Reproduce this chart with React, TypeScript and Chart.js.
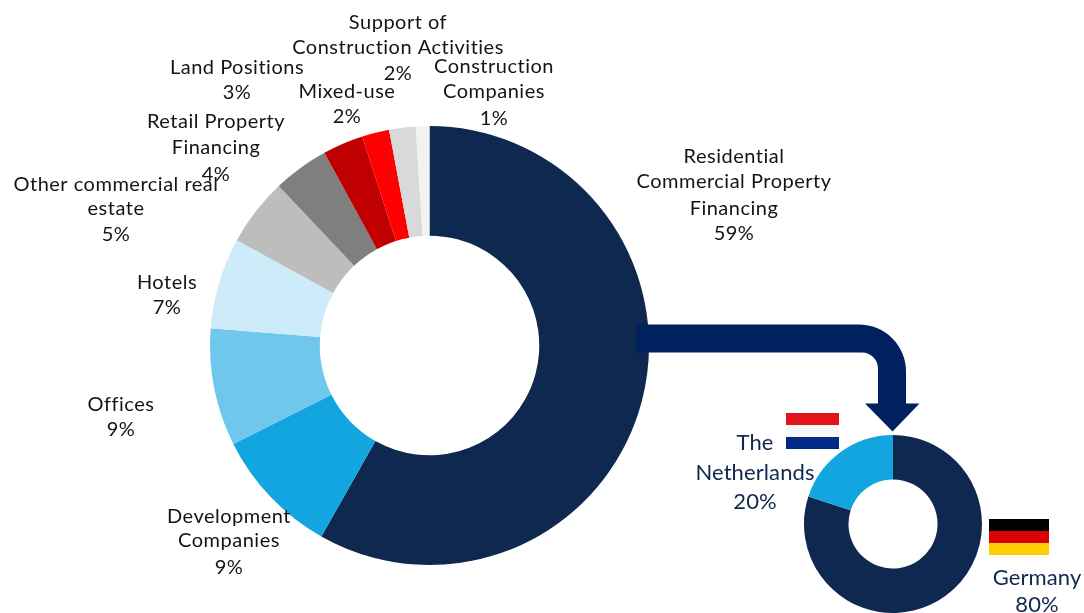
import React, { useEffect, useRef } from "react";
import { Chart, registerables } from "chart.js";

Chart.register(...registerables);

const sectorCategories = [
  "Residential Commercial Property Financing",
  "Development Companies",
  "Offices",
  "Hotels",
  "Other commercial real estate",
  "Retail Property Financing",
  "Land Positions",
  "Mixed-use",
  "Support of Construction Activities",
  "Construction Companies",
];
const sectorValues = [58.2, 9.4, 8.65, 6.7, 5.0, 4.1, 3.0, 2.0, 1.95, 1.0];
const sectorColors = [
  "#0F2850", "#12A5DF", "#6FC7EC", "#CDEBF9", "#BDBDBD",
  "#7F7F7F", "#C00000", "#FF0000", "#D9D9D9", "#F2F2F2",
];
const countryCategories = ["Germany", "The Netherlands"];
const countryValues = [80, 20];
const countryColors = ["#0F2850", "#12A5DF"];

type Lbl = { lines: string[]; x: number; ys: number[] };
const sectorLabels: Lbl[] = [
  { lines: ["Residential", "Commercial Property", "Financing", "59%"], x: 734, ys: [163, 188, 215, 240] },
  { lines: ["Development", "Companies", "9%"], x: 229, ys: [523, 547, 574] },
  { lines: ["Offices", "9%"], x: 121, ys: [411, 436] },
  { lines: ["Hotels", "7%"], x: 167, ys: [289, 314] },
  { lines: ["Other commercial real", "estate", "5%"], x: 116, ys: [191, 215, 241] },
  { lines: ["Retail Property", "Financing", "4%"], x: 216, ys: [128, 154, 181] },
  { lines: ["Land Positions", "3%"], x: 237, ys: [74, 99] },
  { lines: ["Mixed-use", "2%"], x: 347, ys: [98, 123] },
  { lines: ["Support of", "Construction Activities", "2%"], x: 398, ys: [29, 54, 80] },
  { lines: ["Construction", "Companies", "1%"], x: 494, ys: [73, 98, 125] },
];
const countryLabels: Lbl[] = [
  { lines: ["The", "Netherlands", "20%"], x: 755, ys: [450, 480, 509] },
  { lines: ["Germany", "80%"], x: 1037, ys: [585, 612] },
];

const W = 1084;
const H = 613;

const overlay = {
  id: "overlay",
  afterDraw(chart: any) {
    const c = chart.ctx as CanvasRenderingContext2D;
    c.save();
    // arrow
    c.fillStyle = "#00205F";
    c.beginPath();
    c.moveTo(636, 324.5);
    c.lineTo(860, 324.5);
    c.arcTo(906, 324.5, 906, 372, 47);
    c.lineTo(906, 403.5);
    c.lineTo(919.5, 403.5);
    c.lineTo(892.5, 431.5);
    c.lineTo(865, 403.5);
    c.lineTo(878, 403.5);
    c.lineTo(878, 368);
    c.arcTo(878, 352.5, 862, 352.5, 16);
    c.lineTo(636, 352.5);
    c.closePath();
    c.fill();
    // flags
    c.fillStyle = "#E3131B";
    c.fillRect(786, 413, 53, 12);
    c.fillStyle = "#F7F7F7";
    c.fillRect(786, 425, 53, 12);
    c.fillStyle = "#002A86";
    c.fillRect(786, 437, 53, 12);
    c.fillStyle = "#000000";
    c.fillRect(989, 519, 60, 12);
    c.fillStyle = "#DD0000";
    c.fillRect(989, 531, 60, 12);
    c.fillStyle = "#FFCE00";
    c.fillRect(989, 543, 60, 12);
    // labels
    c.textAlign = "center";
    c.textBaseline = "alphabetic";
    c.font = "20px Lato";
    (c as any).letterSpacing = "0.5px";
    c.fillStyle = "#141414";
    for (const l of sectorLabels) l.lines.forEach((t, i) => c.fillText(t, l.x, l.ys[i]));
    c.font = "22px Lato";
    (c as any).letterSpacing = "0.1px";
    c.fillStyle = "#0F2850";
    for (const l of countryLabels) l.lines.forEach((t, i) => c.fillText(t, l.x, l.ys[i]));
    c.restore();
  },
};

const baseOptions = (left: number, top: number, right: number, bottom: number, cutout: string): any => ({
  responsive: false,
  animation: false,
  cutout,
  layout: { padding: { left, top, right, bottom } },
  plugins: { legend: { display: false }, tooltip: { enabled: false } },
});

const abs: React.CSSProperties = { position: "absolute", left: 0, top: 0, width: W, height: H };

export default function App() {
  const a = useRef<HTMLCanvasElement>(null);
  const b = useRef<HTMLCanvasElement>(null);
  useEffect(() => {
    const main = new Chart(a.current!, {
      type: "doughnut",
      data: {
        labels: sectorCategories,
        datasets: [{ data: sectorValues, backgroundColor: sectorColors, borderWidth: 0 }],
      },
      options: baseOptions(210, 126, 435, 48, "50%"),
    });
    const small = new Chart(b.current!, {
      type: "doughnut",
      data: {
        labels: countryCategories,
        datasets: [{ data: countryValues, backgroundColor: countryColors, borderWidth: 0 }],
      },
      options: baseOptions(804, 435, 102, 0, "50%"),
      plugins: [overlay],
    });
    return () => {
      main.destroy();
      small.destroy();
    };
  }, []);
  return (
    <div style={{ position: "fixed", left: 0, top: 0, width: W, height: H, overflow: "hidden", background: "#fff" }}>
      <canvas ref={a} width={W} height={H} style={abs} />
      <canvas ref={b} width={W} height={H} style={abs} />
    </div>
  );
}
